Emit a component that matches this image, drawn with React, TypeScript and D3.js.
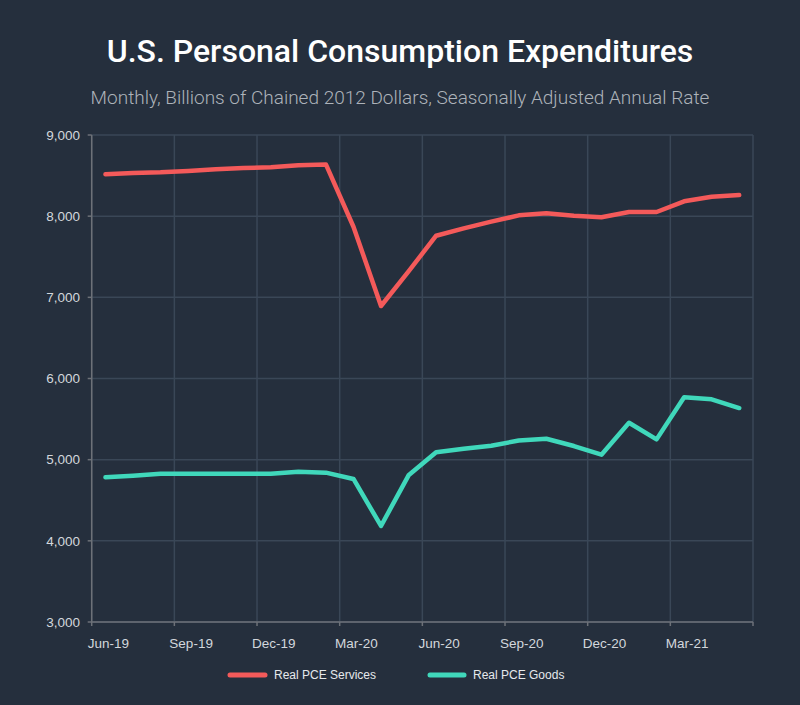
import React from "react";
import * as d3 from "d3";

const months = [
  "Jun-19", "Jul-19", "Aug-19", "Sep-19", "Oct-19", "Nov-19", "Dec-19", "Jan-20",
  "Feb-20", "Mar-20", "Apr-20", "May-20", "Jun-20", "Jul-20", "Aug-20", "Sep-20",
  "Oct-20", "Nov-20", "Dec-20", "Jan-21", "Feb-21", "Mar-21", "Apr-21", "May-21",
];

const services = [
  8516, 8532, 8540, 8556, 8577, 8593, 8602, 8626, 8638, 7870, 6893, 7320,
  7759, 7850, 7932, 8010, 8035, 8005, 7986, 8051, 8051, 8183, 8240, 8260,
];

const goods = [
  4783, 4803, 4827, 4827, 4827, 4827, 4827, 4852, 4840, 4762, 4183, 4807,
  5091, 5135, 5172, 5236, 5258, 5168, 5061, 5455, 5250, 5768, 5744, 5636,
];

const yTicks = [3000, 4000, 5000, 6000, 7000, 8000, 9000];
const labelEvery = 3;

const W = 800;
const H = 705;
const BG = "#252f3d";
const RED = "#f45a5a";
const TEAL = "#40d8bb";
const GRID = "#3a4757";
const AXIS = "#6d7178";
const TICK_TEXT = "#d3d7dc";

export default function App() {
  const left = 91.7;
  const right = 753;
  const top = 135;
  const bottom = 622;

  const x = d3.scaleBand<string>().domain(months).range([left, right]).padding(0);
  const y = d3.scaleLinear().domain([3000, 9000]).range([bottom, top]);
  const cx = (i: number) => (x(months[i]) as number) + x.bandwidth() / 2;

  const line = d3
    .line<number>()
    .x((_, i) => cx(i))
    .y((d) => y(d));

  const boundaries = d3.range(0, months.length + 1, labelEvery).map((i) =>
    i < months.length ? (x(months[i]) as number) : right
  );

  const fmt = d3.format(",");

  return (
    <div style={{ position: "fixed", left: 0, top: 0, width: W, height: H }}>
      <svg width={W} height={H} style={{ display: "block" }}>
        <rect width={W} height={H} fill={BG} />
        <text
          x={400}
          y={62}
          textAnchor="middle"
          fill="#ffffff"
          fontFamily="Roboto, 'Noto Sans', sans-serif"
          fontWeight={500}
          fontSize={32}
        >
          U.S. Personal Consumption Expenditures
        </text>
        <text
          x={400}
          y={104}
          textAnchor="middle"
          fill="#adb3ba"
          fontFamily="Roboto, 'Noto Sans', sans-serif"
          fontWeight={300}
          fontSize={19}
        >
          Monthly, Billions of Chained 2012 Dollars, Seasonally Adjusted Annual Rate
        </text>

        {/* horizontal gridlines */}
        {yTicks.map((t) => (
          <line key={"h" + t} x1={left} x2={right} y1={y(t)} y2={y(t)} stroke={GRID} strokeWidth={1.5} />
        ))}
        {/* vertical gridlines at quarter boundaries */}
        {boundaries.map((bx, k) => (
          <line key={"v" + k} x1={bx} x2={bx} y1={top} y2={bottom} stroke={GRID} strokeWidth={1.5} />
        ))}

        {/* axes */}
        <line x1={left} x2={left} y1={top} y2={bottom} stroke={AXIS} strokeWidth={1.5} />
        <line x1={left} x2={right} y1={bottom} y2={bottom} stroke={AXIS} strokeWidth={1.5} />
        {yTicks.map((t) => (
          <g key={"yt" + t}>
            <line x1={left - 4} x2={left} y1={y(t)} y2={y(t)} stroke={AXIS} strokeWidth={1.5} />
            <text
              x={80}
              y={y(t)}
              dy="0.35em"
              textAnchor="end"
              fill={TICK_TEXT}
              fontFamily="'Liberation Sans', Arial, sans-serif"
              fontSize={13.5}
            >
              {fmt(t)}
            </text>
          </g>
        ))}
        {boundaries.map((bx, k) => (
          <line key={"xt" + k} x1={bx} x2={bx} y1={bottom} y2={bottom + 4} stroke={AXIS} strokeWidth={1.5} />
        ))}
        {months.map((m, i) =>
          i % labelEvery === 0 ? (
            <text
              key={"xl" + m}
              x={cx(i) + 3}
              y={648}
              textAnchor="middle"
              fill={TICK_TEXT}
              fontFamily="'Liberation Sans', Arial, sans-serif"
              fontSize={13.5}
            >
              {m}
            </text>
          ) : null
        )}

        {/* series */}
        <path d={line(services) || ""} fill="none" stroke={RED} strokeWidth={4.5} strokeLinejoin="round" strokeLinecap="round" />
        <path d={line(goods) || ""} fill="none" stroke={TEAL} strokeWidth={4.5} strokeLinejoin="round" strokeLinecap="round" />

        {/* legend */}
        <line x1={230} x2={265} y1={675} y2={675} stroke={RED} strokeWidth={5} strokeLinecap="round" />
        <text x={274} y={679} fill="#e6e9ec" fontFamily="'Liberation Sans', Arial, sans-serif" fontSize={12}>
          Real PCE Services
        </text>
        <line x1={430} x2={464} y1={675} y2={675} stroke={TEAL} strokeWidth={5} strokeLinecap="round" />
        <text x={473} y={679} fill="#e6e9ec" fontFamily="'Liberation Sans', Arial, sans-serif" fontSize={12}>
          Real PCE Goods
        </text>
      </svg>
    </div>
  );
}
